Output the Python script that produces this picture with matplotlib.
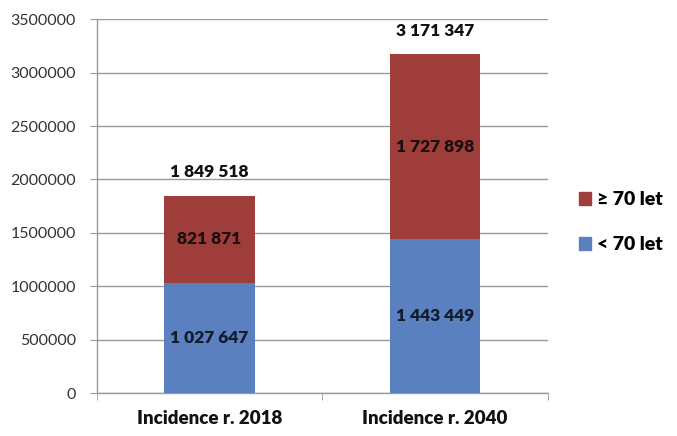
import matplotlib
matplotlib.use("Agg")
import matplotlib.pyplot as plt
from matplotlib.patches import Patch

categories = ["Incidence r. 2018", "Incidence r. 2040"]
under70 = [1027647, 1443449]
over70 = [821871, 1727898]
series_labels = ["< 70 let", "≥ 70 let"]
yticks = [0, 500000, 1000000, 1500000, 2000000, 2500000, 3000000, 3500000]

def fmt(v):
    return f"{v:,}".replace(",", " ")

blue = "#5A80C0"
red = "#9E3D3A"
grid = "#9A9A9A"
font = ["Lato", "DejaVu Sans"]

fig = plt.figure(figsize=(6.77, 4.36), dpi=100)
ax = fig.add_axes([0.143, 0.0986, 0.666, 0.857])

x = list(range(len(categories)))
w = 0.4
ax.bar(x, under70, width=w, color=blue, zorder=3)
ax.bar(x, over70, width=w, bottom=under70, color=red, zorder=3)

for i in x:
    ax.text(i, under70[i] / 2, fmt(under70[i]), ha="center", va="center",
            fontsize=12.5, fontweight="heavy", color="#141B2A", family=font, zorder=4)
    ax.text(i, under70[i] + over70[i] / 2, fmt(over70[i]), ha="center", va="center",
            fontsize=12.5, fontweight="heavy", color="#1A0E0E", family=font, zorder=4)
    total = under70[i] + over70[i]
    ax.annotate(fmt(total), (i, total), xytext=(0, 17), textcoords="offset points",
                ha="center", va="center", fontsize=12.5, fontweight="heavy",
                color="#111111", family=font)

ax.set_xlim(-0.5, 1.5)
ax.set_ylim(0, 3500000)
ax.set_yticks(yticks)
ax.set_yticklabels([str(t) for t in yticks], family=font, fontsize=11.5, color="#333333")
ax.yaxis.grid(True, color=grid, linewidth=1, zorder=0)
ax.set_axisbelow(True)

ax.set_xticks(x)
ax.set_xticklabels(categories, family=font, fontsize=13.5, fontweight="heavy", color="#111111")
ax.tick_params(axis="x", length=0, pad=12)
ax.set_xticks([-0.5, 0.5, 1.5], minor=True)
ax.tick_params(axis="x", which="minor", length=5, color=grid, direction="out")
ax.tick_params(axis="y", length=5, color=grid, direction="out", pad=10)

for s in ["top", "right"]:
    ax.spines[s].set_visible(False)
for s in ["left", "bottom"]:
    ax.spines[s].set_color(grid)
    ax.spines[s].set_linewidth(1)

handles = [Patch(color=red, label=series_labels[1]), Patch(color=blue, label=series_labels[0])]
leg = fig.legend(handles=handles, loc="center left", bbox_to_anchor=(0.855, 0.49),
                 frameon=False, handlelength=0.65, handleheight=0.65, handletextpad=0.3,
                 labelspacing=1.45, borderpad=0, borderaxespad=0,
                 prop={"family": font, "weight": "heavy", "size": 14})

fig.savefig("out.png", dpi=100)
